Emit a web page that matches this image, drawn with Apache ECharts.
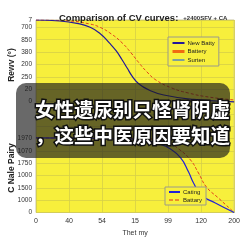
<!DOCTYPE html>
<html>
<head>
<meta charset="utf-8">
<script src="https://cdn.jsdelivr.net/npm/echarts@6/dist/echarts.min.js"></script>
<style>
  html, body { margin: 0; padding: 0; background: #fff; }
  #chart { width: 243px; height: 243px; }
</style>
</head>
<body>
<div id="chart"></div>
<script>
// x ticks every 30 units, labels as printed on the picture
const xLabels = ['0', '40', '54', '15', '99', '120', '200'];
// y ticks every 1 unit from the bottom, top tick (15.6) reads "7"
const yLabels = ['0', '1000', '1500', '1000', '1750', '1070', '1970', '', '', '0', '20', '250', '200', '380', '850', '700'];
const yTopLabel = '7';

// upper curves
const newBattyX = [0, 21.6, 39.6, 48.6, 57.6, 66.6, 72.9, 78.3, 82.8, 87.3, 93.6, 102.6, 116.1, 143.1, 180];
const newBattyY = [15.6, 15.52, 15.28, 15.03, 14.55, 13.74, 13.09, 12.36, 11.71, 11.06, 10.41, 9.93, 9.52, 9.16, 8.96];
const batteryX = [0, 30.6, 48.6, 57.6, 68.4, 78.3, 86.4, 93.6, 100.8, 108.9, 123.3, 138.6, 156.6, 180];
const batteryY = [15.6, 15.52, 15.28, 15.03, 14.47, 13.74, 12.93, 12.12, 11.39, 10.74, 10.09, 9.68, 9.36, 9.12];

// lower curves
const catingX = [0, 84.6, 102.6, 111.6, 120.6, 131.4, 138.6, 143.1, 150.3, 162.9, 180];
const catingY = [6.04, 5.96, 5.8, 5.55, 5.23, 4.42, 3.28, 2.39, 1.42, 0.77, 0];
const battaryX = [0, 102.6, 120.6, 129.6, 140.4, 147.6, 154.8, 165.6, 180];
const battaryY = [6.04, 5.96, 5.63, 5.15, 4.25, 3.2, 2.07, 1.18, 0];

const font = 'Liberation Sans, Arial, sans-serif';
const cjk = 'Noto Sans CJK SC, sans-serif';

function pairs(xs, ys) {
  return xs.map((x, i) => [x, ys[i]]);
}

const noMark = {opacity: 0};

const chart = echarts.init(document.getElementById('chart'));
chart.setOption({
  animation: false,
  title: {
    left: 54,
    top: 4,
    text: '{a|Comparison of CV curves:} {b|+2400SFV + CA}',
    textStyle: {
      rich: {
        a: {fontSize: 9.5, fontWeight: 'bold', color: '#222', fontFamily: font},
        b: {fontSize: 6, color: '#333', fontFamily: font},
      },
    },
  },
  grid: {
    left: 36,
    right: 7,
    top: 20,
    bottom: 30.5,
    show: true,
    backgroundColor: '#f7ef3c',
    borderColor: '#c8c4a0',
    borderWidth: 1,
  },
  legend: [
    {
      orient: 'vertical',
      left: 168,
      top: 37,
      padding: [3, 4, 3, 3],
      itemGap: 2.5,
      itemWidth: 12,
      itemHeight: 6,
      backgroundColor: '#f7ef3c',
      borderColor: '#9a9a8a',
      borderWidth: 1,
      textStyle: {fontSize: 6, color: '#222', fontFamily: font, padding: [0, 0, 0, -2]},
      data: [
        {name: 'New Batty', itemStyle: noMark, lineStyle: {width: 2, color: '#22189a'}},
        {name: 'Battery', itemStyle: noMark, lineStyle: {width: 3, color: '#f06a10', type: 'solid'}},
        {name: 'Surten', itemStyle: noMark, lineStyle: {width: 1.2, color: '#2a6ae0'}},
      ],
    },
    {
      orient: 'vertical',
      left: 165,
      top: 187,
      padding: [2, 4, 2, 3],
      itemGap: 2,
      itemWidth: 11,
      itemHeight: 6,
      backgroundColor: '#f7ef3c',
      borderColor: '#9a9a8a',
      borderWidth: 1,
      textStyle: {fontSize: 6, color: '#222', fontFamily: font, padding: [0, 0, 0, -2]},
      data: [
        {name: 'Cating', itemStyle: noMark, lineStyle: {width: 2, color: '#2222d8'}},
        {name: 'Battary', itemStyle: noMark, lineStyle: {width: 1, color: '#e02a18', type: 'dashed'}},
      ],
    },
  ],
  xAxis: {
    type: 'value',
    min: 0,
    max: 180,
    interval: 30,
    name: 'Thet my',
    nameLocation: 'middle',
    nameGap: 17,
    nameTextStyle: {fontSize: 7, color: '#333', fontFamily: font},
    axisLine: {show: false},
    axisTick: {show: false},
    axisLabel: {
      fontSize: 7, color: '#333', fontFamily: font, margin: 5,
      formatter: (v) => xLabels[Math.round(v / 30)],
    },
    splitLine: {lineStyle: {color: '#d6cf48', width: 0.8}},
  },
  yAxis: {
    type: 'value',
    min: 0,
    max: 15.6,
    interval: 1,
    axisLine: {show: false},
    axisTick: {show: false},
    axisLabel: {
      fontSize: 6.5, color: '#333', fontFamily: font, margin: 4,
      formatter: (v) => (v > 15.5 ? yTopLabel : yLabels[Math.round(v)]),
    },
    splitLine: {lineStyle: {color: '#d6cf48', width: 0.8}},
  },
  series: [
    {
      name: 'Battery', type: 'line', smooth: true, symbol: 'none',
      lineStyle: {color: '#e02a18', width: 0.9, type: [3, 2]},
      itemStyle: {color: '#f06a10'},
      data: pairs(batteryX, batteryY),
    },
    {
      name: 'New Batty', type: 'line', smooth: true, symbol: 'none',
      lineStyle: {color: '#22189a', width: 1.2},
      itemStyle: {color: '#22189a'},
      data: pairs(newBattyX, newBattyY),
    },
    {
      name: 'Surten', type: 'line', symbol: 'none',
      lineStyle: {color: '#2a6ae0', width: 1},
      itemStyle: {color: '#2a6ae0'},
      data: [],
    },
    {
      name: 'Battary', type: 'line', smooth: true, symbol: 'none',
      lineStyle: {color: '#e02a18', width: 0.9, type: [3, 2]},
      itemStyle: {color: '#e02a18'},
      data: pairs(battaryX, battaryY),
    },
    {
      name: 'Cating', type: 'line', smooth: true, symbol: 'none',
      lineStyle: {color: '#2222d8', width: 1.2},
      itemStyle: {color: '#2222d8'},
      data: pairs(catingX, catingY),
    },
  ],
  graphic: [
    {
      type: 'text', x: 12, y: 65, rotation: Math.PI / 2, z: 10,
      style: {text: 'Rewv (°)', fontSize: 8.5, fontWeight: 'bold', fill: '#222', fontFamily: font, align: 'center', verticalAlign: 'middle'},
    },
    {
      type: 'text', x: 12, y: 168, rotation: Math.PI / 2, z: 10,
      style: {text: 'C Nale Pairy', fontSize: 8.5, fontWeight: 'bold', fill: '#222', fontFamily: font, align: 'center', verticalAlign: 'middle'},
    },
    // dark caption box laid over the middle of the chart
    {
      type: 'rect', z: 100,
      shape: {x: 16, y: 83, width: 214, height: 75, r: 10},
      style: {fill: 'rgba(28,28,28,0.66)'},
    },
    {
      type: 'text', x: 35, y: 110, z: 101,
      style: {
        text: '女性遗尿别只怪肾阴虚', fontSize: 19.5, fontWeight: 'bold', fontFamily: cjk,
        fill: '#fff', stroke: '#111', lineWidth: 3, verticalAlign: 'middle',
      },
    },
    {
      type: 'text', x: 35, y: 136, z: 101,
      style: {
        text: '，这些中医原因要知道', fontSize: 19.5, fontWeight: 'bold', fontFamily: cjk,
        fill: '#fff', stroke: '#111', lineWidth: 3, verticalAlign: 'middle',
      },
    },
  ],
});
</script>
</body>
</html>
